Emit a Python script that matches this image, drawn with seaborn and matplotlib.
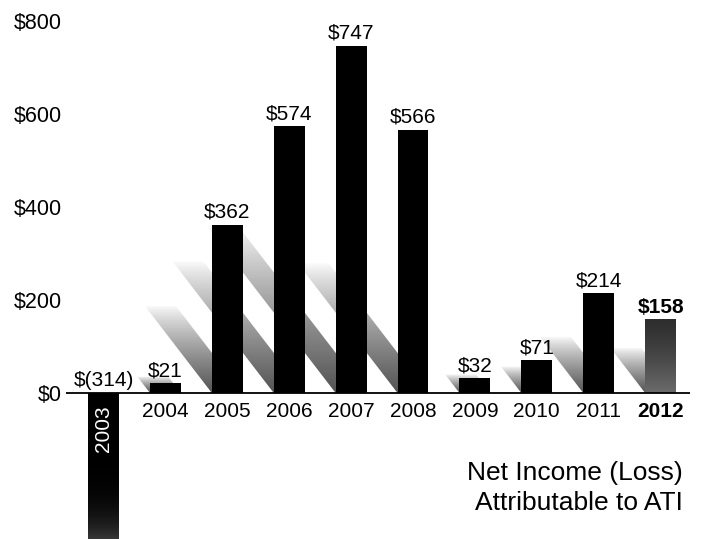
import numpy as np
import pandas as pd
import matplotlib
matplotlib.use("Agg")
import matplotlib.pyplot as plt
from matplotlib.patches import Polygon
import seaborn as sns

# ---- data ----
years = ["2003", "2004", "2005", "2006", "2007", "2008", "2009", "2010", "2011", "2012"]
values = [-314, 21, 362, 574, 747, 566, 32, 71, 214, 158]
value_labels = ["$(314)", "$21", "$362", "$574", "$747", "$566", "$32", "$71", "$214", "$158"]
ytick_values = [0, 200, 400, 600, 800]
ytick_labels = ["$0", "$200", "$400", "$600", "$800"]
title_lines = ["Net Income (Loss)", "Attributable to ATI"]

sns.set_style("white")
FONT = ["Liberation Sans Narrow", "Liberation Sans", "DejaVu Sans"]
REG = ["Liberation Sans", "DejaVu Sans"]
plt.rcParams["font.family"] = FONT
plt.rcParams["text.color"] = "black"
plt.rcParams["ytick.color"] = "black"

W, H = 701, 539
fig = plt.figure(figsize=(W / 100, H / 100), dpi=100)
ax = fig.add_axes([66 / W, 0, 624 / W, 1])

df = pd.DataFrame({"year": years, "value": values})
sns.barplot(data=df, x="year", y="value", color="black", saturation=1,
            width=0.5, ax=ax, zorder=3, linewidth=0, edgecolor="none")

XLIM = (-0.606, 9.475)
YLIM = (-314, 845)
ax.set_xlim(*XLIM)
ax.set_ylim(*YLIM)
for s in ax.spines.values():
    s.set_visible(False)
ax.axhline(0, color="black", lw=1.3, zorder=5)
ax.set_xticks([])
ax.set_xlabel("")
ax.set_ylabel("")
ax.set_yticks(ytick_values, ytick_labels)
ax.tick_params(axis="y", length=0, pad=3, labelsize=15.5, labelcolor="black")
for t in ax.get_yticklabels():
    t.set_family(FONT)

ppx = 624 / (XLIM[1] - XLIM[0])
ppy = H / (YLIM[1] - YLIM[0])

# ---- diagonal shadows ----
slope = 1.3
for i, v in enumerate(values):
    if v <= 0:
        continue
    p = ax.patches[i]
    xl, w = p.get_x(), p.get_width()
    L_px = 0.45 * v * ppy + 12
    Lu = L_px / ppy
    dxu = (L_px / slope) / ppx
    poly = Polygon([(xl, 0), (xl + w, 0), (xl + w - dxu, Lu), (xl - dxu, Lu)],
                   closed=True, facecolor="none", edgecolor="none")
    ax.add_patch(poly)
    t = np.linspace(0, 1, 200)[:, None]
    a = 0.75 * (1 - t) ** 0.8
    img = np.zeros((200, 2, 4))
    img[..., 0:3] = 0.1
    img[..., 3] = a
    im = ax.imshow(img, extent=[xl - dxu, xl + w, 0, Lu], origin="lower",
                   aspect="auto", zorder=1, interpolation="bilinear")
    im.set_clip_path(poly)

# ---- gradient bars (2003 and 2012) ----
def grad_bar(idx, top, bottom, power):
    p = ax.patches[idx]
    x0, y0 = p.get_x(), p.get_y()
    w, h = p.get_width(), p.get_height()
    ylo, yhi = min(y0, y0 + h), max(y0, y0 + h)
    t = np.linspace(0, 1, 200)[:, None] ** power  # 0 at top -> 1 at bottom
    g = top + (bottom - top) * t
    img = np.zeros((200, 2, 4))
    img[..., 0] = g[:, 0:1]
    img[..., 1] = g[:, 0:1]
    img[..., 2] = g[:, 0:1]
    img[..., 3] = 1
    im = ax.imshow(img, extent=[x0, x0 + w, ylo, yhi], origin="upper",
                   aspect="auto", zorder=3.5, interpolation="bilinear")
    im.set_clip_path(p)

grad_bar(0, 0.0, 0.22, 6)
grad_bar(9, 0.18, 0.42, 1.3)
ax.set_xlim(*XLIM)
ax.set_ylim(*YLIM)

# ---- value labels ----
for i, (v, lab) in enumerate(zip(values, value_labels)):
    ax.annotate(lab, (i, max(v, 0)), xytext=(0, 2), textcoords="offset points",
                ha="center", va="bottom", fontsize=15,
                fontweight="bold" if i == len(values) - 1 else "normal",
                family=FONT, color="black", zorder=6)

# ---- year labels ----
for i, yr in enumerate(years):
    if values[i] < 0:
        ax.annotate(yr, (i, 0), xytext=(0, -9), textcoords="offset points",
                    ha="center", va="top", rotation=90, color="white",
                    fontsize=15, family=FONT, zorder=6)
    else:
        ax.annotate(yr, (i, 0), xytext=(0, -6.5), textcoords="offset points",
                    ha="center", va="top", fontsize=15, color="black",
                    fontweight="bold" if i == len(years) - 1 else "normal",
                    family=FONT, zorder=6)

# ---- title ----
fig.text(683 / W, 1 - 480 / H, title_lines[0], ha="right", va="baseline",
         fontsize=19, family=REG, color="black")
fig.text(683 / W, 1 - 510 / H, title_lines[1], ha="right", va="baseline",
         fontsize=19, family=REG, color="black")

fig.savefig("out.png", dpi=100)
